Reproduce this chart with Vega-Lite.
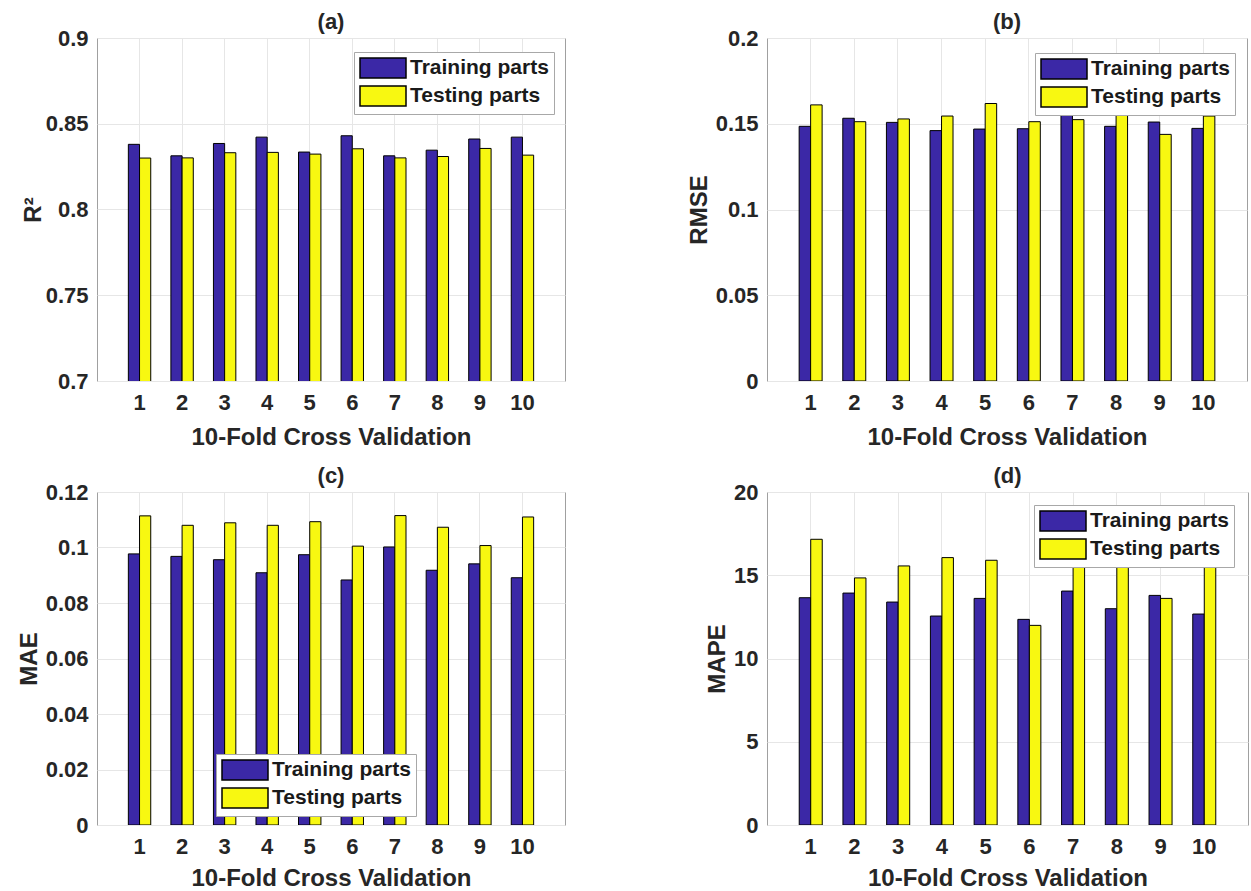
{
  "$schema": "https://vega.github.io/schema/vega-lite/v6.json",
  "background": "white",
  "padding": {"left": 16, "top": 10, "right": 5, "bottom": 3},
  "config": {
    "font": "Liberation Sans",
    "view": {"stroke": "#a0a0a0", "strokeWidth": 1},
    "axis": {"labelFont": "Liberation Sans", "labelFontWeight": "bold", "labelFontSize": 22, "labelColor": "#262626", "titleFont": "Liberation Sans", "titleFontWeight": "bold", "titleFontSize": 24, "titleColor": "#262626", "grid": true, "gridColor": "#e6e6e6", "domain": false, "ticks": false},
    "axisX": {"labelAngle": 0, "labelPadding": 11, "titlePadding": 10},
    "axisY": {"labelPadding": 9, "titlePadding": 4},
    "title": {"fontSize": 22, "fontWeight": "bold", "color": "#262626", "offset": -7, "font": "Liberation Sans"},
    "legend": {"orient": "none", "labelFont": "Liberation Sans", "labelFontWeight": "bold", "labelFontSize": 21, "labelColor": "#1a1a1a", "symbolSize": 400, "symbolStrokeColor": "black", "symbolStrokeWidth": 1.5, "symbolOpacity": 1, "labelOffset": 29, "rowPadding": 2, "padding": 5, "strokeColor": "#a8a8a8", "fillColor": "white", "labelLimit": 300}
  },
  "datasets": {
    "d": [
      {"panel": "a", "fold": 1, "set": "Training parts", "value": 0.838}, {"panel": "a", "fold": 1, "set": "Testing parts", "value": 0.830},
      {"panel": "a", "fold": 2, "set": "Training parts", "value": 0.8313}, {"panel": "a", "fold": 2, "set": "Testing parts", "value": 0.8301},
      {"panel": "a", "fold": 3, "set": "Training parts", "value": 0.8385}, {"panel": "a", "fold": 3, "set": "Testing parts", "value": 0.8331},
      {"panel": "a", "fold": 4, "set": "Training parts", "value": 0.8422}, {"panel": "a", "fold": 4, "set": "Testing parts", "value": 0.8333},
      {"panel": "a", "fold": 5, "set": "Training parts", "value": 0.8335}, {"panel": "a", "fold": 5, "set": "Testing parts", "value": 0.8323},
      {"panel": "a", "fold": 6, "set": "Training parts", "value": 0.843}, {"panel": "a", "fold": 6, "set": "Testing parts", "value": 0.8354},
      {"panel": "a", "fold": 7, "set": "Training parts", "value": 0.8313}, {"panel": "a", "fold": 7, "set": "Testing parts", "value": 0.8301},
      {"panel": "a", "fold": 8, "set": "Training parts", "value": 0.8346}, {"panel": "a", "fold": 8, "set": "Testing parts", "value": 0.8309},
      {"panel": "a", "fold": 9, "set": "Training parts", "value": 0.8411}, {"panel": "a", "fold": 9, "set": "Testing parts", "value": 0.8356},
      {"panel": "a", "fold": 10, "set": "Training parts", "value": 0.8422}, {"panel": "a", "fold": 10, "set": "Testing parts", "value": 0.8317},
      {"panel": "b", "fold": 1, "set": "Training parts", "value": 0.1485}, {"panel": "b", "fold": 1, "set": "Testing parts", "value": 0.161},
      {"panel": "b", "fold": 2, "set": "Training parts", "value": 0.1532}, {"panel": "b", "fold": 2, "set": "Testing parts", "value": 0.1512},
      {"panel": "b", "fold": 3, "set": "Training parts", "value": 0.1508}, {"panel": "b", "fold": 3, "set": "Testing parts", "value": 0.1528},
      {"panel": "b", "fold": 4, "set": "Training parts", "value": 0.146}, {"panel": "b", "fold": 4, "set": "Testing parts", "value": 0.1545},
      {"panel": "b", "fold": 5, "set": "Training parts", "value": 0.1469}, {"panel": "b", "fold": 5, "set": "Testing parts", "value": 0.1618},
      {"panel": "b", "fold": 6, "set": "Training parts", "value": 0.1471}, {"panel": "b", "fold": 6, "set": "Testing parts", "value": 0.1512},
      {"panel": "b", "fold": 7, "set": "Training parts", "value": 0.1555}, {"panel": "b", "fold": 7, "set": "Testing parts", "value": 0.1524},
      {"panel": "b", "fold": 8, "set": "Training parts", "value": 0.1485}, {"panel": "b", "fold": 8, "set": "Testing parts", "value": 0.1588},
      {"panel": "b", "fold": 9, "set": "Training parts", "value": 0.151}, {"panel": "b", "fold": 9, "set": "Testing parts", "value": 0.1438},
      {"panel": "b", "fold": 10, "set": "Training parts", "value": 0.1473}, {"panel": "b", "fold": 10, "set": "Testing parts", "value": 0.1545},
      {"panel": "c", "fold": 1, "set": "Training parts", "value": 0.0977}, {"panel": "c", "fold": 1, "set": "Testing parts", "value": 0.1114},
      {"panel": "c", "fold": 2, "set": "Training parts", "value": 0.0968}, {"panel": "c", "fold": 2, "set": "Testing parts", "value": 0.108},
      {"panel": "c", "fold": 3, "set": "Training parts", "value": 0.0956}, {"panel": "c", "fold": 3, "set": "Testing parts", "value": 0.1089},
      {"panel": "c", "fold": 4, "set": "Training parts", "value": 0.0909}, {"panel": "c", "fold": 4, "set": "Testing parts", "value": 0.108},
      {"panel": "c", "fold": 5, "set": "Training parts", "value": 0.0974}, {"panel": "c", "fold": 5, "set": "Testing parts", "value": 0.1093},
      {"panel": "c", "fold": 6, "set": "Training parts", "value": 0.0883}, {"panel": "c", "fold": 6, "set": "Testing parts", "value": 0.1005},
      {"panel": "c", "fold": 7, "set": "Training parts", "value": 0.1002}, {"panel": "c", "fold": 7, "set": "Testing parts", "value": 0.1115},
      {"panel": "c", "fold": 8, "set": "Training parts", "value": 0.0918}, {"panel": "c", "fold": 8, "set": "Testing parts", "value": 0.1073},
      {"panel": "c", "fold": 9, "set": "Training parts", "value": 0.0941}, {"panel": "c", "fold": 9, "set": "Testing parts", "value": 0.1007},
      {"panel": "c", "fold": 10, "set": "Training parts", "value": 0.0891}, {"panel": "c", "fold": 10, "set": "Testing parts", "value": 0.111},
      {"panel": "d", "fold": 1, "set": "Training parts", "value": 13.65}, {"panel": "d", "fold": 1, "set": "Testing parts", "value": 17.16},
      {"panel": "d", "fold": 2, "set": "Training parts", "value": 13.93}, {"panel": "d", "fold": 2, "set": "Testing parts", "value": 14.84},
      {"panel": "d", "fold": 3, "set": "Training parts", "value": 13.39}, {"panel": "d", "fold": 3, "set": "Testing parts", "value": 15.56},
      {"panel": "d", "fold": 4, "set": "Training parts", "value": 12.55}, {"panel": "d", "fold": 4, "set": "Testing parts", "value": 16.06},
      {"panel": "d", "fold": 5, "set": "Training parts", "value": 13.61}, {"panel": "d", "fold": 5, "set": "Testing parts", "value": 15.9},
      {"panel": "d", "fold": 6, "set": "Training parts", "value": 12.35}, {"panel": "d", "fold": 6, "set": "Testing parts", "value": 11.99},
      {"panel": "d", "fold": 7, "set": "Training parts", "value": 14.05}, {"panel": "d", "fold": 7, "set": "Testing parts", "value": 15.76},
      {"panel": "d", "fold": 8, "set": "Training parts", "value": 12.99}, {"panel": "d", "fold": 8, "set": "Testing parts", "value": 15.84},
      {"panel": "d", "fold": 9, "set": "Training parts", "value": 13.79}, {"panel": "d", "fold": 9, "set": "Testing parts", "value": 13.61},
      {"panel": "d", "fold": 10, "set": "Training parts", "value": 12.67}, {"panel": "d", "fold": 10, "set": "Testing parts", "value": 15.62}
    ]
  },
  "columns": 2,
  "align": "none",
  "bounds": "flush",
  "spacing": {"row": 111, "column": 202},
  "resolve": {"scale": {"x": "independent", "y": "independent", "color": "independent", "xOffset": "independent"}, "legend": {"color": "independent"}, "axis": {"x": "independent", "y": "independent"}},
  "concat": [
    {
      "title": "(a)",
      "width": 468, "height": 343,
      "data": {"name": "d"},
      "transform": [{"filter": "datum.panel === 'a'"}],
      "mark": {"type": "bar", "stroke": "black", "strokeWidth": 1, "clip": true},
      "encoding": {
        "x": {"field": "fold", "type": "ordinal", "scale": {"paddingInner": 0, "paddingOuter": 0.5}, "axis": {"title": "10-Fold Cross Validation", "bandPosition": 0.5, "titlePadding": 12}},
        "xOffset": {"field": "set", "type": "nominal", "sort": ["Training parts", "Testing parts"], "scale": {"paddingInner": 0, "paddingOuter": 0.9}},
        "y": {"field": "value", "type": "quantitative", "scale": {"domain": [0.7, 0.9], "zero": false, "nice": false}, "axis": {"title": "R²", "values": [0.7, 0.75, 0.8, 0.85, 0.9], "format": ".3~g", "titlePadding": 0}},
        "color": {"field": "set", "type": "nominal", "sort": ["Training parts", "Testing parts"], "scale": {"domain": ["Training parts", "Testing parts"], "range": ["#3b28a6", "#f8f811"]}, "legend": {"title": null, "orient": "none", "legendX": 257, "legendY": 14, "symbolType": "M-1,-1H3.6V1H-1Z"}}
      }
    },
    {
      "title": "(b)",
      "width": 480, "height": 343,
      "data": {"name": "d"},
      "transform": [{"filter": "datum.panel === 'b'"}],
      "mark": {"type": "bar", "stroke": "black", "strokeWidth": 1, "clip": true},
      "encoding": {
        "x": {"field": "fold", "type": "ordinal", "scale": {"paddingInner": 0, "paddingOuter": 0.5}, "axis": {"title": "10-Fold Cross Validation", "bandPosition": 0.5, "titlePadding": 12}},
        "xOffset": {"field": "set", "type": "nominal", "sort": ["Training parts", "Testing parts"], "scale": {"paddingInner": 0, "paddingOuter": 0.9}},
        "y": {"field": "value", "type": "quantitative", "scale": {"domain": [0, 0.2], "nice": false}, "axis": {"title": "RMSE", "values": [0, 0.05, 0.1, 0.15, 0.2], "format": ".3~g"}},
        "color": {"field": "set", "type": "nominal", "sort": ["Training parts", "Testing parts"], "scale": {"domain": ["Training parts", "Testing parts"], "range": ["#3b28a6", "#f8f811"]}, "legend": {"title": null, "orient": "none", "legendX": 268, "legendY": 15, "symbolType": "M-1,-1H3.6V1H-1Z"}}
      }
    },
    {
      "title": "(c)",
      "width": 468, "height": 333,
      "data": {"name": "d"},
      "transform": [{"filter": "datum.panel === 'c'"}],
      "mark": {"type": "bar", "stroke": "black", "strokeWidth": 1, "clip": true},
      "encoding": {
        "x": {"field": "fold", "type": "ordinal", "scale": {"paddingInner": 0, "paddingOuter": 0.5}, "axis": {"title": "10-Fold Cross Validation", "bandPosition": 0.5, "titlePadding": 9}},
        "xOffset": {"field": "set", "type": "nominal", "sort": ["Training parts", "Testing parts"], "scale": {"paddingInner": 0, "paddingOuter": 0.9}},
        "y": {"field": "value", "type": "quantitative", "scale": {"domain": [0, 0.12], "nice": false}, "axis": {"title": "MAE", "values": [0, 0.02, 0.04, 0.06, 0.08, 0.1, 0.12], "format": ".3~g"}},
        "color": {"field": "set", "type": "nominal", "sort": ["Training parts", "Testing parts"], "scale": {"domain": ["Training parts", "Testing parts"], "range": ["#3b28a6", "#f8f811"]}, "legend": {"title": null, "orient": "none", "legendX": 119, "legendY": 262, "symbolType": "M-1,-1H3.6V1H-1Z"}}
      }
    },
    {
      "title": "(d)",
      "width": 481, "height": 333,
      "data": {"name": "d"},
      "transform": [{"filter": "datum.panel === 'd'"}],
      "mark": {"type": "bar", "stroke": "black", "strokeWidth": 1, "clip": true},
      "encoding": {
        "x": {"field": "fold", "type": "ordinal", "scale": {"paddingInner": 0, "paddingOuter": 0.5}, "axis": {"title": "10-Fold Cross Validation", "bandPosition": 0.5, "titlePadding": 9}},
        "xOffset": {"field": "set", "type": "nominal", "sort": ["Training parts", "Testing parts"], "scale": {"paddingInner": 0, "paddingOuter": 0.9}},
        "y": {"field": "value", "type": "quantitative", "scale": {"domain": [0, 20], "nice": false}, "axis": {"title": "MAPE", "values": [0, 5, 10, 15, 20], "format": ".3~g"}},
        "color": {"field": "set", "type": "nominal", "sort": ["Training parts", "Testing parts"], "scale": {"domain": ["Training parts", "Testing parts"], "range": ["#3b28a6", "#f8f811"]}, "legend": {"title": null, "orient": "none", "legendX": 267, "legendY": 13, "symbolType": "M-1,-1H3.6V1H-1Z"}}
      }
    }
  ]
}
